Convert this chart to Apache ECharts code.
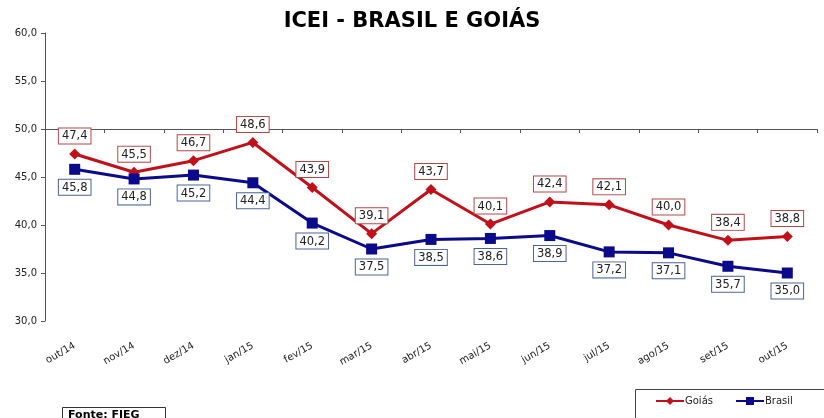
<!DOCTYPE html>
<html>
<head>
<meta charset="utf-8">
<script src="https://cdn.jsdelivr.net/npm/echarts@6/dist/echarts.min.js"></script>
<style>
  html, body { margin: 0; padding: 0; background: #fff; }
  #chart { width: 824px; height: 418px; }
</style>
</head>
<body>
<div id="chart"></div>
<script>
const categories = ['out/14', 'nov/14', 'dez/14', 'jan/15', 'fev/15', 'mar/15', 'abr/15',
  'mai/15', 'jun/15', 'jul/15', 'ago/15', 'set/15', 'out/15'];
const goias = [47.4, 45.5, 46.7, 48.6, 43.9, 39.1, 43.7, 40.1, 42.4, 42.1, 40.0, 38.4, 38.8];
const brasil = [45.8, 44.8, 45.2, 44.4, 40.2, 37.5, 38.5, 38.6, 38.9, 37.2, 37.1, 35.7, 35.0];

const fmt = v => v.toFixed(1).replace('.', ',');
const font = 'DejaVu Sans';

function labelStyle(pos, border) {
  return {
    show: true,
    position: pos,
    distance: 5,
    formatter: p => fmt(p.value),
    fontFamily: font,
    fontSize: 11.5,
    color: '#222',
    backgroundColor: '#fff',
    borderColor: border,
    borderWidth: 1,
    padding: [2, 3, 1, 3]
  };
}

const chart = echarts.init(document.getElementById('chart'));
chart.setOption({
  animation: false,
  title: {
    text: 'ICEI - BRASIL E GOIÁS',
    left: 'center',
    top: 6,
    textStyle: { fontFamily: font, fontWeight: 'bold', fontSize: 21, color: '#000' }
  },
  grid: [
    { left: 45, right: 7, top: 33, bottom: 97 },
    { left: 45, right: 7, top: 33, height: 96 }
  ],
  xAxis: [
    {
      type: 'category', gridIndex: 0, data: categories, boundaryGap: true,
      axisLine: { show: false }, axisTick: { show: false },
      axisLabel: { rotate: 30, margin: 24, fontFamily: font, fontSize: 10, color: '#222', interval: 0 }
    },
    {
      type: 'category', gridIndex: 1, data: categories, boundaryGap: true,
      axisLine: { show: true, lineStyle: { color: '#555', width: 1 } },
      axisTick: { show: true, length: 4, lineStyle: { color: '#555' } },
      axisLabel: { show: false }
    }
  ],
  yAxis: [
    {
      type: 'value', gridIndex: 0, min: 30, max: 60, interval: 5,
      axisLine: { show: true, lineStyle: { color: '#555' } },
      axisTick: { show: true, length: 4, lineStyle: { color: '#555' } },
      splitLine: { show: false },
      axisLabel: { formatter: v => fmt(v), fontFamily: font, fontSize: 10, color: '#222', margin: 8 }
    },
    { type: 'value', gridIndex: 1, show: false, min: 0, max: 1 }
  ],
  legend: {
    orient: 'horizontal',
    left: 655, top: 396, width: 200,
    padding: 0,
    itemWidth: 28, itemHeight: 10, itemGap: 22,
    textStyle: { fontFamily: font, fontSize: 10, color: '#222', padding: [0, 0, 0, -4] },
    data: ['Goiás', 'Brasil']
  },
  graphic: [
    { type: 'rect', left: 633, top: 387, shape: { width: 220, height: 40 },
      style: { fill: 'none', stroke: '#444', lineWidth: 1 } },
    { type: 'rect', left: 62, top: 407, shape: { width: 103, height: 20 },
      style: { fill: '#fff', stroke: '#333', lineWidth: 1 } },
    { type: 'text', left: 68, top: 410,
      style: { text: 'Fonte: FIEG', fontFamily: font, fontWeight: 'bold', fontSize: 11, fill: '#000' } }
  ],
  series: [
    {
      name: 'Goiás', type: 'line', data: goias,
      symbol: 'diamond', symbolSize: 11,
      lineStyle: { color: '#c0101a', width: 3 },
      itemStyle: { color: '#c0101a' },
      label: labelStyle('top', '#b04848')
    },
    {
      name: 'Brasil', type: 'line', data: brasil,
      symbol: 'rect', symbolSize: 11,
      lineStyle: { color: '#0a0a8a', width: 3 },
      itemStyle: { color: '#0a0a8a' },
      label: labelStyle('bottom', '#4a6590')
    }
  ]
});
</script>
</body>
</html>
